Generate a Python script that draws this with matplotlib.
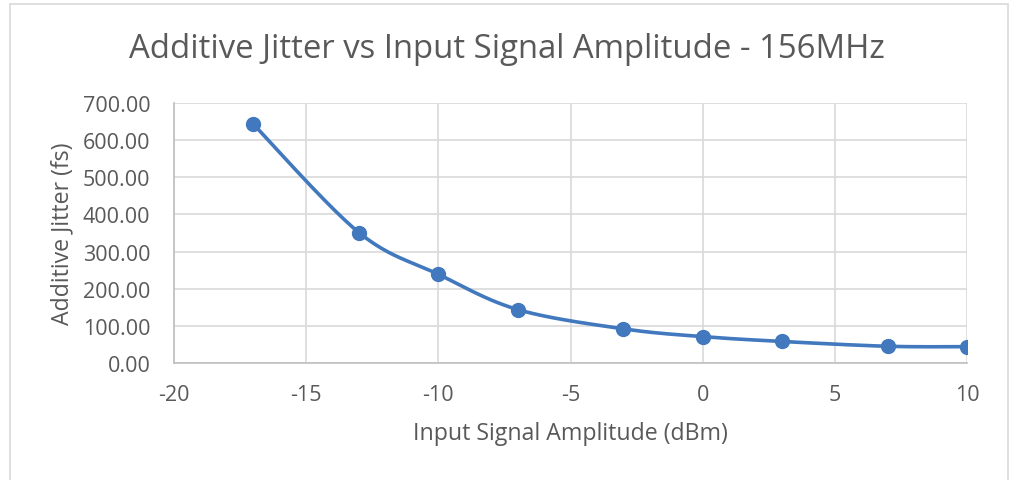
import numpy as np
import matplotlib
matplotlib.use("Agg")
import matplotlib.pyplot as plt
from matplotlib.patches import Rectangle

amplitude_dbm = [-17, -13, -10, -7, -3, 0, 3, 7, 10]
jitter_fs = [643, 351, 239, 144, 92, 71, 58, 45, 44]
x_ticks = [-20, -15, -10, -5, 0, 5, 10]
y_ticks = [0, 100, 200, 300, 400, 500, 600, 700]

title = "Additive Jitter vs Input Signal Amplitude - 156MHz"
x_label = "Input Signal Amplitude (dBm)"
y_label = "Additive Jitter (fs)"

plt.rcParams['font.family'] = ['Open Sans', 'DejaVu Sans']
plt.rcParams['axes.unicode_minus'] = False

def smooth(xs, ys, n=40):
    # Catmull-Rom style smoothing like Excel's smoothed line
    xs = np.asarray(xs, float); ys = np.asarray(ys, float)
    px = np.concatenate([[xs[0]], xs, [xs[-1]]])
    py = np.concatenate([[ys[0]], ys, [ys[-1]]])
    ox, oy = [], []
    t = np.linspace(0, 1, n)
    for i in range(1, len(px) - 2):
        p0 = np.array([px[i], py[i]]); p3 = np.array([px[i + 1], py[i + 1]])
        c1 = p0 + (np.array([px[i + 1], py[i + 1]]) - np.array([px[i - 1], py[i - 1]])) / 6
        c2 = p3 - (np.array([px[i + 2], py[i + 2]]) - np.array([px[i], py[i]])) / 6
        b = ((1 - t) ** 3)[:, None] * p0 + (3 * (1 - t) ** 2 * t)[:, None] * c1 \
            + (3 * (1 - t) * t ** 2)[:, None] * c2 + (t ** 3)[:, None] * p3
        ox.extend(b[:, 0]); oy.extend(b[:, 1])
    return ox, oy

fig = plt.figure(figsize=(10.13, 4.81), dpi=100)
ax = fig.add_axes([174 / 1013, 1 - 364 / 481, (967 - 174) / 1013, (364 - 104) / 481])

sx, sy = smooth(amplitude_dbm, jitter_fs)
color = '#4178BE'
ax.plot(sx, sy, color=color, lw=2.6, solid_capstyle='round', zorder=3)
ax.plot(amplitude_dbm, jitter_fs, 'o', color=color, ms=10, zorder=4)

ax.set_xlim(-20, 10)
ax.set_ylim(0, 700)
ax.set_xticks(x_ticks)
ax.set_xticklabels([str(v) for v in x_ticks])
ax.set_yticks(y_ticks)
ax.set_yticklabels([f"{v:.2f}" for v in y_ticks])
ax.grid(True, color='#D9D9D9', lw=1.2)
ax.set_axisbelow(True)
for s in ['top', 'right']:
    ax.spines[s].set_visible(False)
for s in ['left', 'bottom']:
    ax.spines[s].set_color('#BFBFBF')
    ax.spines[s].set_linewidth(1.2)
ax.tick_params(axis='y', length=0, labelsize=15.5, colors='#595959', pad=17)
ax.tick_params(axis='x', length=0, labelsize=15.5, colors='#595959', pad=15)
ax.set_xlabel(x_label, fontsize=16.7, color='#595959')
ax.set_ylabel(y_label, fontsize=16.7, color='#595959')
ax.xaxis.set_label_coords(0.5, -0.269)
ax.yaxis.set_label_coords(-0.141, 0.5)
ax.xaxis.label.set_va('center')
ax.yaxis.label.set_va('center')

fig.text(0.5, 1 - 50 / 481, title, fontsize=23.7, color='#595959', ha='center', va='center')
fig.patches.append(Rectangle((10 / 1013, -0.05), 998 / 1013, 1 - 5 / 481 + 0.05,
                             transform=fig.transFigure, fill=False, ec='#D9D9D9', lw=1.2))

fig.savefig("out.png", dpi=100)
